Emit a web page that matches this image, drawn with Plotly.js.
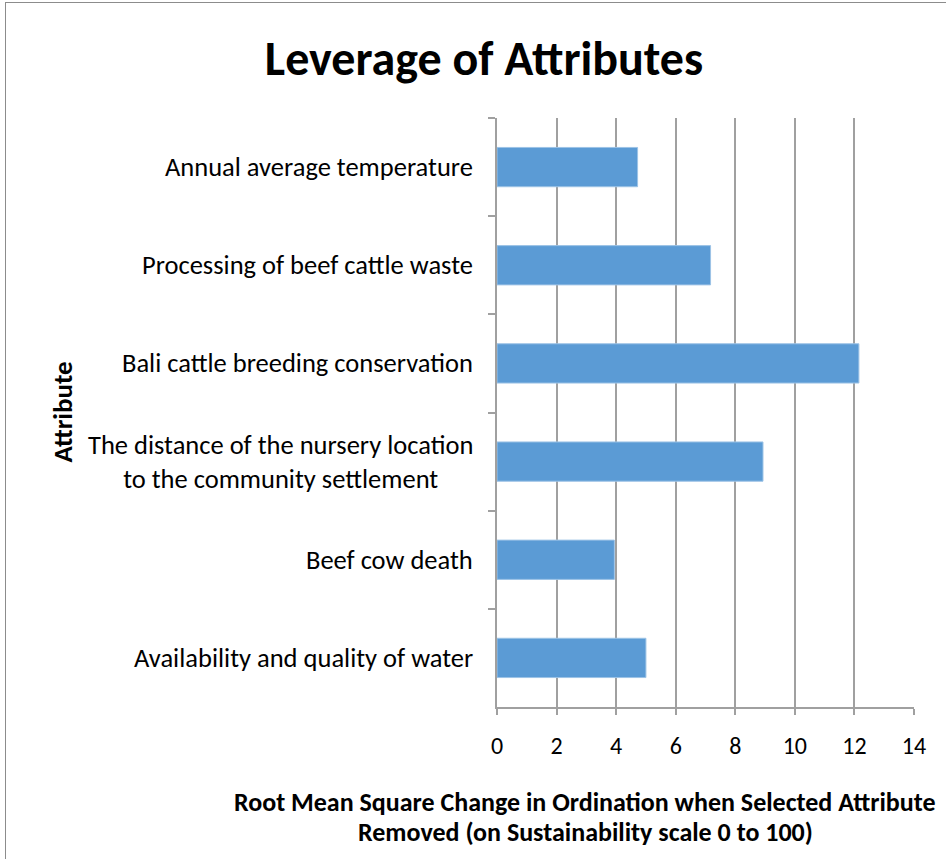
<!DOCTYPE html>
<html><head><meta charset="utf-8">
<script src="https://cdn.plot.ly/plotly-3.0.1.min.js"></script>
<style>
html,body{margin:0;padding:0;overflow:hidden;background:#fff;}
#frame{position:absolute;left:5px;top:2px;width:2000px;height:2000px;border:1.5px solid #8c8c8c;pointer-events:none;}
</style></head>
<body>
<div id="chart" style="width:946px;height:859px;"></div>
<div id="frame"></div>
<script>
const categories = [
  "Annual average temperature",
  "Processing of beef cattle waste",
  "Bali cattle breeding conservation",
  "The distance of the nursery location<br>to the community settlement",
  "Beef cow death",
  "Availability and quality of water"
];
const values = [4.72, 7.17, 12.15, 8.93, 3.94, 5.0];
const xTicks = [0, 2, 4, 6, 8, 10, 12, 14];
const xTitleLines = [
  "Root Mean Square Change in Ordination when Selected Attribute",
  "Removed (on Sustainability scale 0 to 100)"
];

const FONT = "Carlito, Lato, 'Open Sans', sans-serif";

const labelAnnotations = categories.map(c => ({
  text: c, xref: 'paper', yref: 'y', x: 0, y: c, xanchor: 'right', yanchor: 'middle',
  xshift: -22, align: 'center', showarrow: false,
  font: {family: FONT, size: 26.5, color: '#000'}
}));

const xTitleAnnotations = xTitleLines.map((t, i) => ({
  text: '<b>' + t + '</b>', xref: 'paper', yref: 'paper',
  x: (585 - 497) / (914 - 497), y: 0, yshift: -95 - 30 * i,
  xanchor: 'center', yanchor: 'middle', showarrow: false,
  font: {family: FONT, size: 26, color: '#000'}
}));

const data = [{
  type: 'bar', orientation: 'h', y: categories, x: values,
  width: 0.4,
  marker: {color: '#5B9BD5', line: {color: '#9DC3E6', width: 1}},
  hoverinfo: 'x+y'
}];

const layout = {
  width: 946, height: 859,
  margin: {l: 497, r: 32, t: 118, b: 152},
  paper_bgcolor: '#fff', plot_bgcolor: '#fff',
  showlegend: false,
  title: {text: '<b>Leverage of Attributes</b>', font: {family: FONT, size: 48, color: '#000'},
          x: 484/946, xanchor: 'center', y: 1 - 58/859, yanchor: 'middle'},
  xaxis: {
    range: [0, 14], tickvals: xTicks, ticktext: xTicks.map(String),
    showgrid: true, gridcolor: '#a0a0a0', gridwidth: 1.5,
    zeroline: false, showline: true, linecolor: '#a0a0a0', linewidth: 1.5,
    ticks: 'outside', ticklen: 6, tickcolor: '#a0a0a0', tickwidth: 1.5,
    ticklabelstandoff: 10,
    tickfont: {family: FONT, size: 24, color: '#000'}, fixedrange: true
  },
  yaxis: {
    type: 'category', autorange: 'reversed',
    showticklabels: false, showgrid: false, zeroline: false,
    showline: true, linecolor: '#a0a0a0', linewidth: 1.5,
    ticks: 'outside', tickson: 'boundaries', ticklen: 7, tickcolor: '#a0a0a0', tickwidth: 1.5,
    fixedrange: true
  },
  annotations: labelAnnotations.concat(xTitleAnnotations, [
    {text: '<b>Attribute</b>', xref: 'paper', yref: 'paper', x: 0, y: 0.5, xshift: -435,
     textangle: -90, showarrow: false, xanchor: 'center', yanchor: 'middle',
     font: {family: FONT, size: 27, color: '#000'}}
  ])
};

Plotly.newPlot('chart', data, layout, {displayModeBar: false});
</script>
</body></html>
